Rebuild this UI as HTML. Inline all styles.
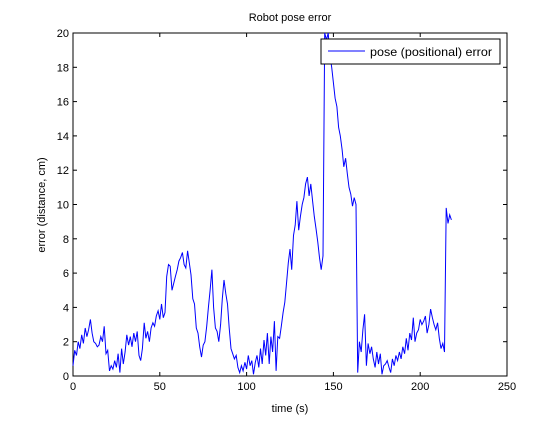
<!DOCTYPE html>
<html><head><meta charset="utf-8"><style>
body{margin:0;background:#fff;}
svg text{font-family:"Liberation Sans",Arial,sans-serif;font-size:11px;fill:#000;}
</style></head><body>
<svg id="chart" width="560" height="421">
<rect x="0" y="0" width="560" height="421" fill="#fff"/>
<text x="290" y="21" text-anchor="middle">Robot pose error</text>
<text x="290" y="412" text-anchor="middle">time (s)</text>
<text transform="translate(45,205) rotate(-90)" text-anchor="middle">error (distance, cm)</text>
<g id="axes"></g>
<polyline id="series" fill="none" stroke="#0000ff" stroke-width="1"/>
<rect x="321" y="39" width="179" height="25" fill="#fff" stroke="#000"/>
<line x1="328" y1="51" x2="365" y2="51" stroke="#0000ff"/>
<text x="370" y="56" textLength="122" lengthAdjust="spacingAndGlyphs" style="font-size:12px">pose (positional) error</text>
</svg>
<script>
const xTicks=[0,50,100,150,200,250];
const yTicks=[0,2,4,6,8,10,12,14,16,18,20];
const startTime=0;
const errorValues=[
0.6,1.5,1.2,2.0,1.6,2.4,1.9,2.8,2.3,2.7,3.3,
2.5,2.0,1.9,1.7,1.8,2.3,2.0,2.9,1.3,1.5,
0.3,0.6,0.4,0.9,0.5,1.3,0.2,1.6,0.7,1.4,
2.4,1.8,2.3,1.7,2.5,2.0,2.6,1.2,0.9,1.6,
3.1,2.2,2.6,2.0,2.8,3.1,2.9,3.5,3.8,3.3,
4.2,3.4,3.7,5.8,6.5,
6.4,5.0,5.4,5.8,6.2,6.7,6.9,
7.2,6.5,6.3,7.3,6.6,
5.9,4.5,4.2,2.8,2.5,1.7,1.1,1.8,
2.0,2.9,4.0,5.0,6.2,4.0,2.8,
2.6,2.0,3.0,4.5,5.6,4.8,4.2,2.8,
1.6,1.3,1.0,1.2,0.5,0.2,0.6,0.3,0.8,0.4,
1.2,0.6,0.9,0.1,0.8,1.2,0.5,1.6,0.7,2.1,
1.2,2.5,0.7,2.3,1.4,3.2,0.3,2.3,
2.2,2.9,3.7,4.3,5.4,6.6,7.4,6.2,8.2,8.8,10.2,8.5,
9.3,10.0,10.4,11.2,11.6,10.5,11.2,10.2,9.3,8.6,
7.8,6.9,6.2,7.0,20,
19.6,20,18.7,18.0,17.1,16.2,15.7,
14.5,14.0,13.2,12.2,12.7,11.8,11.0,10.6,
9.9,10.4,10.0,0.2,2.0,
1.4,2.7,3.6,0.6,1.9,
1.3,1.7,1.0,0.5,1.4,0.7,1.3,0.1,0.6,0.7,
0.9,0.5,0.2,1.0,0.6,1.2,0.9,1.4,1.0,1.7,
1.3,2.2,1.5,2.5,2.1,3.4,2.0,2.5,2.7,3.3,
3.0,3.2,3.5,2.5,3.0,3.9,3.4,3.0,2.7,3.1,
2.2,1.6,1.9,1.4,9.8,8.9,9.4,9.1
];
const L=73,R=507,T=33,B=376;
const xs=v=>L+(v-0)/(250-0)*(R-L);
const ys=v=>B-(v-0)/(20-0)*(B-T);
const NS='http://www.w3.org/2000/svg';
const ax=document.getElementById('axes');
function mk(tag,attrs){const e=document.createElementNS(NS,tag);for(const k in attrs)e.setAttribute(k,attrs[k]);ax.appendChild(e);return e;}
const frame=mk('rect',{x:L,y:T,width:R-L,height:B-T,fill:'none',stroke:'#000'});


xTicks.forEach(t=>{
  const x=xs(t);
  mk('line',{x1:x,y1:B,x2:x,y2:B-4,stroke:'#000'});
  mk('line',{x1:x,y1:T,x2:x,y2:T+4,stroke:'#000'});
  const tx=mk('text',{x:x,y:B+14,'text-anchor':'middle'});tx.textContent=t;
  
  
});
yTicks.forEach(t=>{
  const y=ys(t);
  mk('line',{x1:L,y1:y,x2:L+4,y2:y,stroke:'#000'});
  mk('line',{x1:R,y1:y,x2:R-4,y2:y,stroke:'#000'});
  const tx=mk('text',{x:L-4,y:y+4,'text-anchor':'end'});tx.textContent=t;
  
  
});
document.getElementById('series').setAttribute('points',errorValues.map((v,i)=>xs(startTime+i).toFixed(1)+','+ys(v).toFixed(1)).join(' '));
</script>
</body></html>
